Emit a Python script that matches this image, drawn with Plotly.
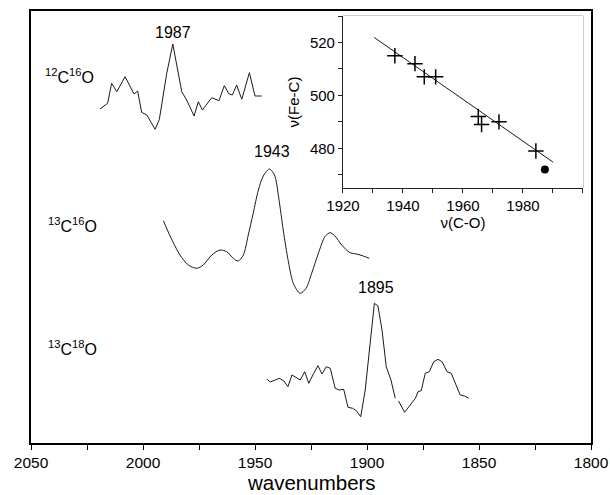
import plotly.graph_objects as go

# ---- Main spectra (wavenumber, arbitrary intensity units) ----
wn_12c16o = [2019.2, 2015.8, 2014.0, 2011.7, 2008.0, 2004.0, 2002.4, 2000.6, 1998.3, 1994.6,
             1992.7, 1989.4, 1986.7, 1985.0, 1982.7, 1980.5, 1977.2, 1975.3, 1973.5, 1969.3,
             1966.1, 1963.7, 1961.6, 1960.1, 1958.2, 1955.9, 1952.5, 1950.0, 1947.0]
int_12c16o = [334, 339.7, 359.7, 351.3, 366.3, 349, 352, 330.7, 328, 313.7,
              323.7, 369.7, 399, 379.7, 351.3, 343, 327, 341.3, 333, 345.3,
              342.3, 357.3, 349, 348, 358, 343.7, 370.3, 347, 347]

wn_13c16o = [1990.9, 1987.9, 1983.5, 1979.8, 1976.0, 1973.1, 1969.3, 1965.6, 1962.6, 1959.7,
             1957.5, 1955.2, 1953.0, 1950.8, 1948.5, 1946.3, 1943.6, 1941.3, 1939.4, 1937.4,
             1935.1, 1932.9, 1929.9, 1927.2, 1924.7, 1921.7, 1918.8, 1916.5, 1914.3, 1911.3,
             1907.6, 1904.6, 1901.7, 1899.0]
int_13c16o = [222.3, 207, 188, 178, 174.7, 178, 188, 193, 191.3, 184.7,
              182, 188, 208, 229.7, 253, 267, 274, 268, 245, 213,
              181.3, 159.7, 149.7, 154.7, 169.7, 189.7, 206.3, 210.3, 207, 198,
              190.3, 189, 187, 184.7]

wn_13c18o = [1944.6, 1943.2, 1940.9, 1939.2, 1937.2, 1935.3, 1933.5, 1931.3, 1929.8, 1927.8,
             1926.0, 1923.8, 1921.9, 1920.1, 1918.2, 1916.4, 1914.2, 1912.4, 1910.4, 1908.5,
             1906.4, 1904.8, 1902.8, 1900.8, 1899.2, 1897.8, 1896.7, 1895.1, 1893.3, 1891.4,
             1889.3, 1887.4, 1886.6, 1885.9, 1883.2, 1880.7, 1878.4, 1877.2, 1875.8, 1874.0,
             1872.2, 1870.2, 1868.3, 1866.5, 1864.3, 1862.4, 1860.6, 1858.4, 1856.4, 1854.6]
int_13c18o = [63.7, 61, 63, 64.7, 62.3, 56.3, 68, 64.7, 63, 71.3,
              59.7, 69.7, 77.3, 69, 76.3, 74.7, 54.7, 53, 53.7, 35.7,
              34.7, 32.3, 26.3, 53, 86.3, 116.3, 139.7, 137, 113, 76.3,
              63, 44.7, None, 42, 30.7, 38, 44.7, 51.3, 52.3, 69.7,
              71.3, 81.3, 83.7, 81.3, 71.3, 69.7, 59.7, 48, 47, 44.7]

# ---- Inset: nu(Fe-C) vs nu(C-O) ----
nu_co_cross = [1937.3, 1944.0, 1947.1, 1950.9, 1965.1, 1966.2, 1972.0, 1984.3]
nu_fec_cross = [515, 512, 507, 507, 492, 489, 490, 479]
nu_co_dot = [1987.3]
nu_fec_dot = [472]
fit_co = [1930.4, 1990.1]
fit_fec = [521.9, 474.7]

main_ticks = [2050, 2000, 1950, 1900, 1850, 1800]
inset_xticks = [1920, 1940, 1960, 1980]
inset_yticks = [480, 500, 520]

FONT = "Liberation Sans, Arial, sans-serif"
line_col = "#1a1a1a"

fig = go.Figure()
fig.add_trace(go.Scatter(x=wn_12c16o, y=int_12c16o, mode="lines",
                         line=dict(color=line_col, width=1), showlegend=False))
fig.add_trace(go.Scatter(x=wn_13c16o, y=int_13c16o, mode="lines",
                         line=dict(color=line_col, width=1, shape="spline", smoothing=0.8),
                         showlegend=False))
fig.add_trace(go.Scatter(x=wn_13c18o, y=int_13c18o, mode="lines",
                         line=dict(color=line_col, width=1), showlegend=False))

fig.add_trace(go.Scatter(x=fit_co, y=fit_fec, mode="lines", xaxis="x2", yaxis="y2",
                         line=dict(color="black", width=0.9), showlegend=False))
fig.add_trace(go.Scatter(x=nu_co_cross, y=nu_fec_cross, mode="markers", xaxis="x2", yaxis="y2",
                         marker=dict(symbol="cross-thin", size=11,
                                     line=dict(color="black", width=1.5)),
                         showlegend=False))
fig.add_trace(go.Scatter(x=nu_co_dot, y=nu_fec_dot, mode="markers", xaxis="x2", yaxis="y2",
                         marker=dict(symbol="circle", size=8, color="black"),
                         showlegend=False))

fig.update_layout(
    width=610, height=495,
    margin=dict(l=31, r=19, t=11, b=52, autoexpand=False),
    paper_bgcolor="white", plot_bgcolor="white",
    font=dict(family=FONT, color="black"),
    xaxis=dict(range=[2050, 1800], tickvals=main_ticks, ticks="outside", ticklen=5,
               tickwidth=1.3, tickcolor="black", automargin=False,
               minor=dict(dtick=25, tick0=2050, ticks="outside", ticklen=5, tickwidth=1.3,
                          tickcolor="black"),
               showline=True, linecolor="black", linewidth=1.6, mirror=True,
               showgrid=False, zeroline=False, tickfont=dict(size=15.5)),
    yaxis=dict(range=[0, 432], showticklabels=False, ticks="", showline=True, automargin=False,
               linecolor="black", linewidth=1.6, mirror=True, showgrid=False, zeroline=False),
    xaxis2=dict(domain=[0.5571, 0.9857], anchor="y2", range=[1920, 2000], automargin=False,
                tickvals=inset_xticks, ticks="outside", ticklen=4, tickcolor="#222",
                minor=dict(dtick=10, tick0=1920, ticks="outside", ticklen=4, tickcolor="#222"),
                showline=True, linecolor="#222", linewidth=1, showgrid=False, zeroline=False,
                tickfont=dict(size=15),
                title=dict(text="ν(C-O)", font=dict(size=15), standoff=4)),
    yaxis2=dict(domain=[0.5903, 0.9884], anchor="x2", range=[465, 530], automargin=False,
                tickvals=inset_yticks, ticks="outside", ticklen=4, tickcolor="#222",
                minor=dict(dtick=10, tick0=470, ticks="outside", ticklen=4, tickcolor="#222"),
                showline=True, linecolor="#222", linewidth=1, showgrid=False, zeroline=False,
                tickfont=dict(size=15),
                title=dict(text="ν(Fe-C)", font=dict(size=15), standoff=6)),
    shapes=[dict(type="rect", xref="x2 domain", yref="y2 domain", x0=0, x1=1, y0=0, y1=1,
                 line=dict(color="#9a9a9a", width=1), fillcolor="white", layer="below")],
)

# main x-axis title as paper-anchored text just below the tick labels
fig.add_annotation(x=0.5, y=-0.0914, xref="paper", yref="paper", text="wavenumbers",
                   showarrow=False, yanchor="middle", borderpad=0,
                   font=dict(size=20.5, family=FONT, color="black"))

ann = [
    ("1987", 1986.5, 411),
    ("1943", 1942.5, 292),
    ("1895", 1895.8, 156),
    ("<sup>12</sup>C<sup>16</sup>O", 2032.6, 367),
    ("<sup>13</sup>C<sup>16</sup>O", 2031.4, 218),
    ("<sup>13</sup>C<sup>18</sup>O", 2031.4, 95),
]
for txt, x, y in ann:
    fig.add_annotation(x=x, y=y, xref="x", yref="y", text=txt, showarrow=False,
                       font=dict(size=16, family=FONT, color="black"))

fig.write_html("out.html", config={"displayModeBar": False},
               post_script="document.body.style.margin='0px';document.body.style.padding='0px';")
